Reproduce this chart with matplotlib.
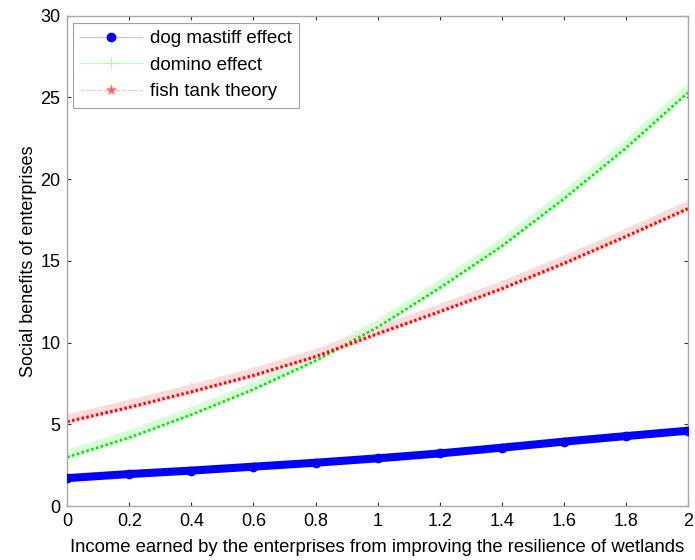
import matplotlib
matplotlib.use('Agg')
import matplotlib.pyplot as plt
import matplotlib.transforms as mtransforms
import numpy as np

# values at x = 0, 0.2, ..., 2
income = [0.0, 0.2, 0.4, 0.6, 0.8, 1.0, 1.2, 1.4, 1.6, 1.8, 2.0]
dog_mastiff = [1.72, 1.97, 2.18, 2.42, 2.66, 2.93, 3.23, 3.58, 3.95, 4.29, 4.62]
domino = [3.0, 4.2, 5.6, 7.15, 8.9, 10.95, 13.35, 15.9, 18.8, 21.9, 25.3]
fish_tank = [5.17, 6.05, 7.0, 8.0, 9.15, 10.55, 11.9, 13.3, 14.85, 16.5, 18.2]

xticks = [0, 0.2, 0.4, 0.6, 0.8, 1, 1.2, 1.4, 1.6, 1.8, 2]
xticklabels = ['0', '0.2', '0.4', '0.6', '0.8', '1', '1.2', '1.4', '1.6', '1.8', '2']
yticks = [0, 5, 10, 15, 20, 25, 30]

plt.rcParams['font.family'] = ['Liberation Sans', 'DejaVu Sans']

fig = plt.figure(figsize=(6.95, 5.6), dpi=100)
ax = fig.add_axes([0.0968, 0.096, 0.893, 0.876])

up = mtransforms.offset_copy(ax.transData, fig=fig, y=2.5, units='dots')

# blue: dense circle markers -> thick band
ax.plot(income, dog_mastiff, '-', color='#c8c8ff', lw=1, marker='o', ms=6,
        mfc='#0000ff', mec='#0000ff', label='dog mastiff effect', zorder=3)
ax.plot(income, dog_mastiff, color='#0000ff', lw=5.8, solid_capstyle='round', zorder=3.5)

# green: light '+' band above a dotted line
ax.plot(income, domino, '-', color='#b8ffb8', lw=0.8, marker='+', ms=8, mew=0.8,
        mec='#aaffaa', label='domino effect', transform=up, zorder=2)
ax.plot(income, domino, color='#d8ffd8', lw=7, transform=up, zorder=2.1)
ax.plot(income, domino, color='#00e000', lw=1.8, ls=(0, (1, 1)), zorder=2.5)

# red: light pink '*' band above a dotted line
ax.plot(income, fish_tank, '--', color='#ffc0c0', lw=0.8, marker='*', ms=8, mew=0.5,
        mfc='#ff6060', mec='#ff9090', label='fish tank theory', transform=up, zorder=2)
ax.plot(income, fish_tank, color='#ffdcdc', lw=7, transform=up, zorder=2.1)
ax.plot(income, fish_tank, color='#ff0000', lw=2.2, ls=(0, (0.8, 0.8)), zorder=2.5)

ax.set_xlim(0, 2)
ax.set_ylim(0, 30)
ax.set_xticks(xticks)
ax.set_xticklabels(xticklabels)
ax.set_yticks(yticks)
ax.tick_params(direction='in', length=3, width=0.8, color='#333333',
               top=True, right=True, labelsize=13, pad=5)
for s in ax.spines.values():
    s.set_color('#a8a8a8')
    s.set_linewidth(1)

ax.set_xlabel('Income earned by the enterprises from improving the resilience of wetlands',
              fontsize=13.3, labelpad=6)
ax.set_ylabel('Social benefits of enterprises', fontsize=13, labelpad=2)

leg = ax.legend(loc='upper left', bbox_to_anchor=(0.0087, 0.9857), borderaxespad=0,
                fontsize=13.5, numpoints=1, handlelength=3.3, handletextpad=0.4,
                labelspacing=0.5, borderpad=0.4, fancybox=False, framealpha=1)
leg.get_frame().set_edgecolor('#a0a0a0')
leg.get_frame().set_linewidth(0.8)

fig.savefig('out.png', dpi=100)
